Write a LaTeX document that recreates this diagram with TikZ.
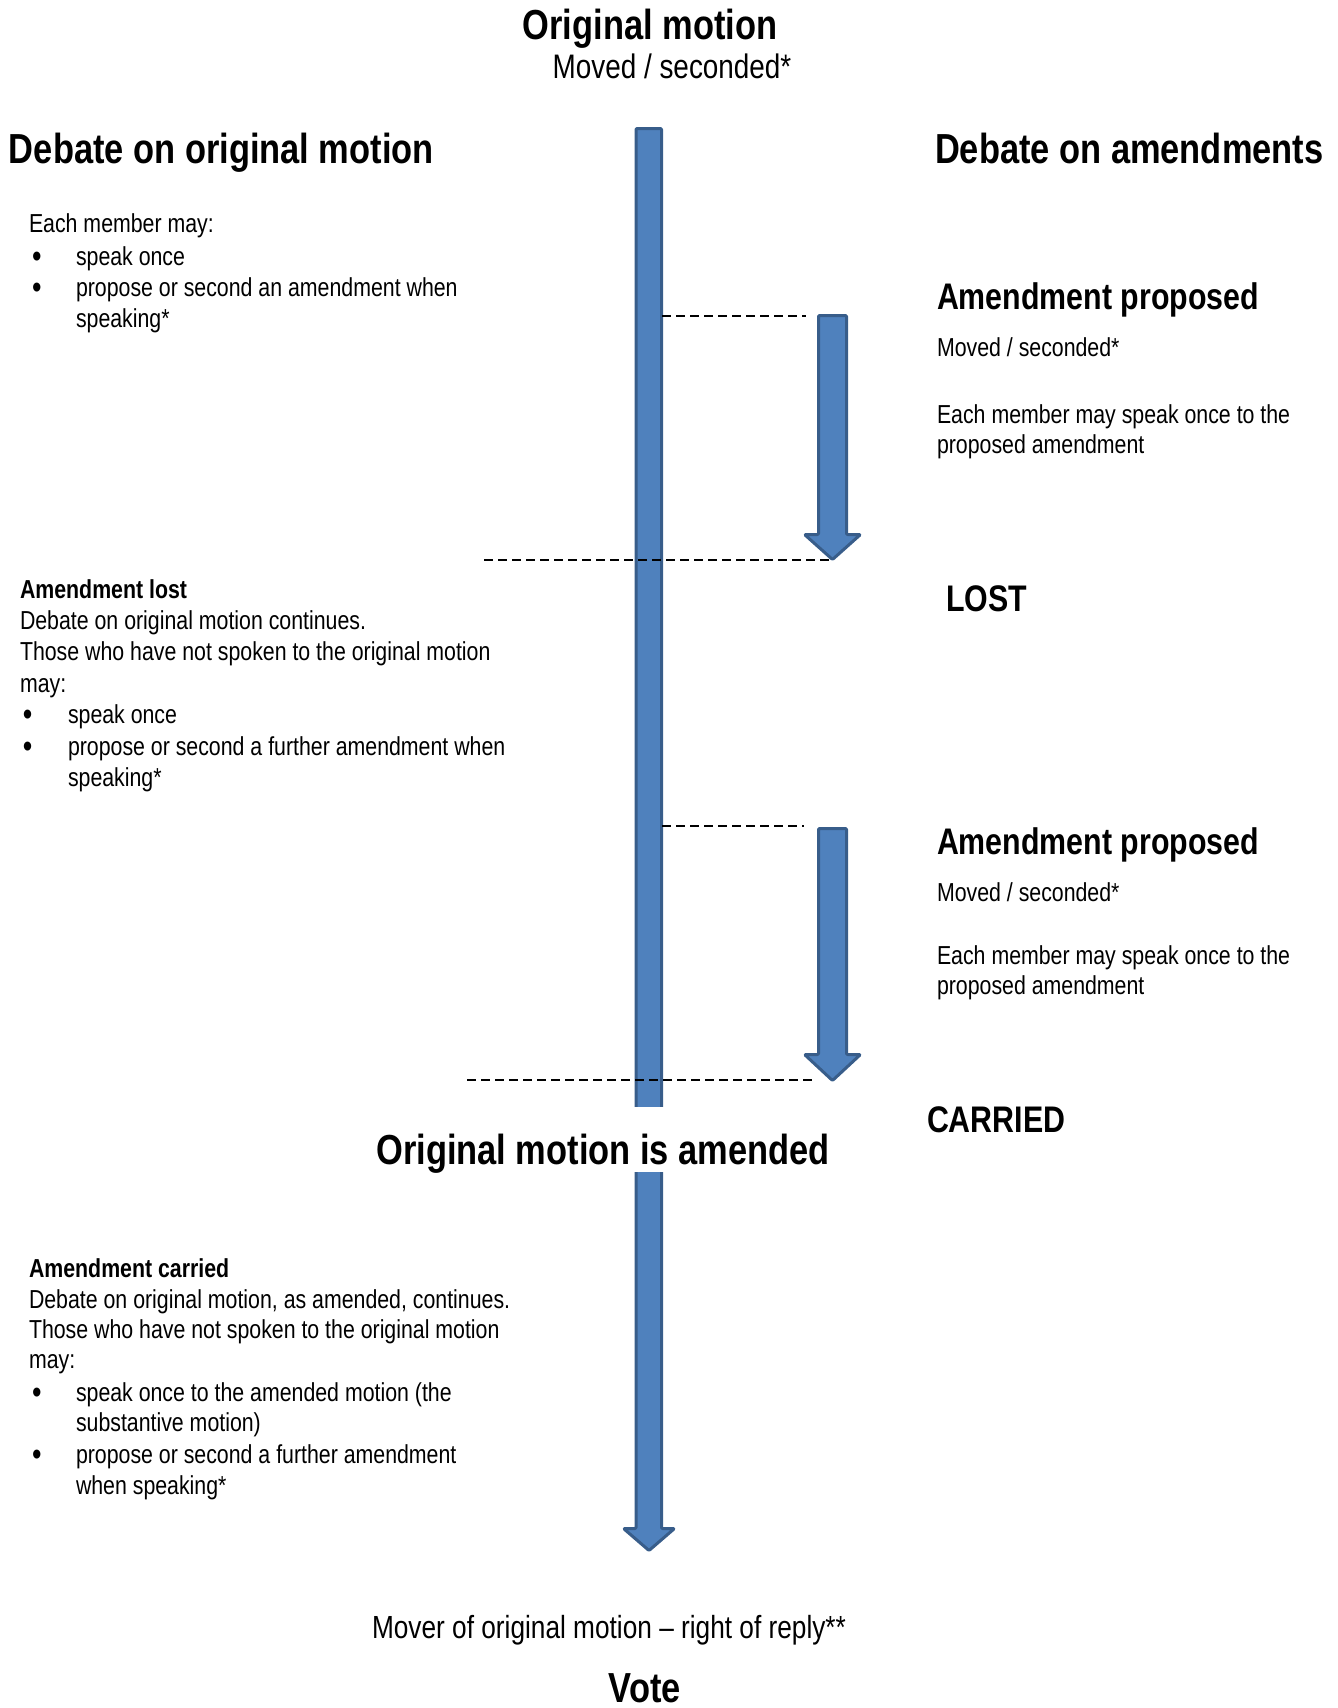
\documentclass[tikz,border=0pt]{standalone}
\usepackage{fontspec}
\setmainfont{Liberation Sans}[FakeStretch=0.82]
\definecolor{barfill}{HTML}{4F81BD}
\definecolor{barline}{HTML}{385D8A}
\begin{document}
\begin{tikzpicture}[x=1pt,y=-1pt,
  every node/.style={inner sep=0pt,outer sep=0pt},
  bar/.style={fill=barfill,draw=barline,line width=3pt,line join=round,rounded corners=1pt},
  guide/.style={draw=black,line width=2pt,dash pattern=on 9pt off 5pt},
  hd/.style={font=\fontsize{42}{50}\selectfont\bfseries},
  sub/.style={font=\fontsize{37}{44}\selectfont\bfseries},
  body/.style={font=\fontsize{26}{31}\selectfont},
  bul/.style={font=\fontsize{33}{31}\selectfont},
  bbody/.style={font=\fontsize{26}{31}\selectfont\bfseries},
  tl/.style={anchor=base west}]
\useasboundingbox (0,0) rectangle (1338,1708);
% arrows
\draw[bar] (636,128.5) -- (661.5,128.5) -- (661.5,1528.5) -- (674.5,1528.5) -- (649,1550.5) -- (623.5,1528.5) -- (636,1528.5) -- cycle;
\draw[bar] (818.5,315.5) -- (846.5,315.5) -- (846.5,534.5) -- (860.5,534.5) -- (832.5,559.5) -- (804.5,534.5) -- (818.5,534.5) -- cycle;
\draw[bar] (818.5,828.5) -- (846.5,828.5) -- (846.5,1054.5) -- (860.5,1054.5) -- (832.5,1080.5) -- (804.5,1054.5) -- (818.5,1054.5) -- cycle;
% dashed guides
\coordinate (d1a) at (662,316); \coordinate (d1b) at (806,316);
\coordinate (d2a) at (484,560); \coordinate (d2b) at (832,560);
\coordinate (d3a) at (662,826); \coordinate (d3b) at (804,826);
\coordinate (d4a) at (467,1080); \coordinate (d4b) at (812,1080);
\draw[guide] (d1a) -- (d1b);
\draw[guide] (d2a) -- (d2b);
\draw[guide] (d3a) -- (d3b);
\draw[guide] (d4a) -- (d4b);
% titles
\node[hd,anchor=base] (title) at (650,39) {Original motion};
\node[font=\fontsize{34}{40}\selectfont,anchor=base] (titlesub) at (672,78) {Moved / seconded*};
\node[hd,tl] (lhead) at (9,163) {Debate on original motion};
\node[hd,tl] (rhead) at (935,163) {Debate on amendments};
% block 1
\node[body,tl] (a1) at (29,232) {Each member may:};
\node[bul,tl] (a2b) at (32,267) {•};
\node[body,tl] (a2) at (76,265) {speak once};
\node[bul,tl] (a3b) at (32,298) {•};
\node[body,tl] (a3) at (76,296) {propose or second an amendment when};
\node[body,tl] (a4) at (76,327) {speaking*};
% block 2
\node[bbody,tl] (c1) at (20,598) {Amendment lost};
\node[body,tl] (c2) at (20,629) {Debate on original motion continues.};
\node[body,tl] (c3) at (20,660) {Those who have not spoken to the original motion};
\node[body,tl] (c4) at (20,692) {may:};
\node[bul,tl] (c5b) at (23,725) {•};
\node[body,tl] (c5) at (68,723) {speak once};
\node[bul,tl] (c6b) at (23,757) {•};
\node[body,tl] (c6) at (68,755) {propose or second a further amendment when};
\node[body,tl] (c7) at (68,786) {speaking*};
% block 3
\node[bbody,tl] (e1) at (29,1277) {Amendment carried};
\node[body,tl] (e2) at (29,1308) {Debate on original motion, as amended, continues.};
\node[body,tl] (e3) at (29,1338) {Those who have not spoken to the original motion};
\node[body,tl] (e4) at (29,1368) {may:};
\node[bul,tl] (e5b) at (32,1403) {•};
\node[body,tl] (e5) at (76,1401) {speak once to the amended motion (the};
\node[body,tl] (e6) at (76,1431) {substantive motion)};
\node[bul,tl] (e7b) at (32,1465) {•};
\node[body,tl] (e7) at (76,1463) {propose or second a further amendment};
\node[body,tl] (e8) at (76,1494) {when speaking*};
% right column
\node[sub,tl] (p1) at (937,309) {Amendment proposed};
\node[body,tl] (p1m) at (937,356) {Moved / seconded*};
\node[body,tl] (p1e) at (937,423) {Each member may speak once to the};
\node[body,tl] (p1f) at (937,453) {proposed amendment};
\node[sub,tl] (lost) at (946,611) {LOST};
\node[sub,tl] (p2) at (937,854) {Amendment proposed};
\node[body,tl] (p2m) at (937,901) {Moved / seconded*};
\node[body,tl] (p2e) at (937,964) {Each member may speak once to the};
\node[body,tl] (p2f) at (937,994) {proposed amendment};
\node[sub,tl] (carried) at (927,1132) {CARRIED};
% middle
\node[hd,anchor=base,fill=white,text height=57pt,text depth=8pt] (amended) at (603,1164) {Original motion is amended};
\node[font=\fontsize{32}{38}\selectfont,anchor=base] (mover) at (609,1638) {Mover of original motion – right of reply**};
\node[hd,anchor=base] (vote) at (645,1702) {Vote};
\end{tikzpicture}
\end{document}
